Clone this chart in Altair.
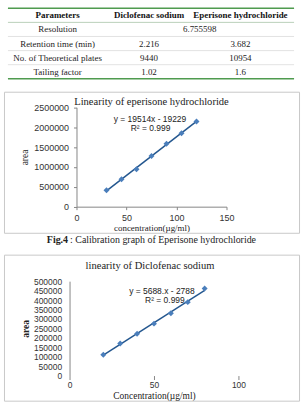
import altair as alt
import pandas as pd

# ---- system suitability table ----
headers = ["Parameters", "Diclofenac sodium", "Eperisone hydrochloride"]
param_names = ["Resolution", "Retention time (min)", "No. of Theoretical plates", "Tailing factor"]
diclofenac_vals = [None, "2.216", "9440", "1.02"]
eperisone_vals = [None, "3.682", "10954", "1.6"]
resolution_val = "6.755598"

# ---- eperisone calibration ----
ep_conc = [30, 45, 60, 75, 90, 105, 120]
ep_area = [415000, 690000, 940000, 1275000, 1585000, 1850000, 2145000]
ep_title = "Linearity of eperisone hydrochloride"
ep_eq = "y = 19514x - 19229"
ep_r2 = "R² = 0.999"

# ---- diclofenac calibration ----
dic_conc = [20, 30, 40, 50, 60, 70, 80]
dic_area = [110000, 170000, 221000, 275000, 330000, 389000, 461000]
dic_title = "linearity of Diclofenac sodium"
dic_eq = "y = 5688.x - 2788"
dic_r2 = "R² = 0.999"

caption_bold = "Fig.4"
caption_rest = ": Calibration graph of Eperisone hydrochloride"

SERIF = "Liberation Serif"
SANS = "Liberation Sans"
MARKER = "#4a7ebb"
TREND = "#24578f"
FRAME = "#c9c9c9"
AXIS = "#868686"

# ---------------- table ----------------
cells = []
for h in headers:
    cells.append({"col": h, "pos": 0.5, "text": h, "bold": True})
for i, p in enumerate(param_names):
    cells.append({"col": headers[0], "pos": i + 1.5, "text": p, "bold": False})
    if diclofenac_vals[i]:
        cells.append({"col": headers[1], "pos": i + 1.5, "text": diclofenac_vals[i], "bold": False})
    if eperisone_vals[i]:
        cells.append({"col": headers[2], "pos": i + 1.5, "text": eperisone_vals[i], "bold": False})
cells_df = pd.DataFrame(cells)
merged_df = pd.DataFrame({"col": [headers[1]], "pos": [1.5], "text": [resolution_val]})
bounds_df = pd.DataFrame({"pos": [0, 1, 2, 3, 4, 5]})

tx = alt.Scale(type="point", domain=headers, range=[54, 238], padding=0)
ty = alt.Scale(domain=[0, 5], range=[7, 78])
X_T = alt.X("col:N", scale=tx, axis=None)
Y_T = alt.Y("pos:Q", scale=ty, axis=None)
Y_B = alt.Y("pos:Q", scale=ty, axis=None)

outer_rules = alt.Chart(bounds_df).transform_filter("datum.pos == 0 || datum.pos == 5").mark_rule(
    color="#4f9b4f", strokeWidth=1.6).encode(y=Y_B, x=alt.value(4), x2=alt.value(292))
head_rule = alt.Chart(bounds_df).transform_filter("datum.pos == 1").mark_rule(
    color="#a9c4a9", strokeWidth=0.8).encode(y=Y_B, x=alt.value(4), x2=alt.value(292))
row_rules = alt.Chart(bounds_df).transform_filter("datum.pos >= 2 && datum.pos <= 4").mark_rule(
    color="#dcdcdc", strokeWidth=0.8).encode(y=Y_B, x=alt.value(4), x2=alt.value(292))
head_text = alt.Chart(cells_df).transform_filter("datum.bold").mark_text(
    font=SERIF, fontSize=9, fontWeight="bold", color="#111", baseline="middle").encode(
    x=X_T, y=Y_T, text="text:N")
body_text = alt.Chart(cells_df).transform_filter("!datum.bold").mark_text(
    font=SERIF, fontSize=9, color="#222", baseline="middle").encode(
    x=X_T, y=Y_T, text="text:N")
merged_text = alt.Chart(merged_df).mark_text(
    font=SERIF, fontSize=9, color="#222", baseline="middle", dx=51).encode(
    x=X_T, y=Y_T, text="text:N")

table = alt.layer(outer_rules, head_rule, row_rules, head_text, body_text, merged_text).properties(
    width=297, height=91, view=alt.ViewBackground(stroke=None))


# ---------------- calibration panels ----------------
def label(txt, x, y, font, size, weight="normal", align="center"):
    return alt.Chart(pd.DataFrame({"t": [txt]})).mark_text(
        font=font, fontSize=size, fontWeight=weight, align=align, baseline="middle", color="#222"
    ).encode(text="t:N", x=alt.value(x), y=alt.value(y))


def calib_panel(conc, area, xdom, xrange, xticks, ydom, yrange, yticks, height,
                xtitle, ytitle, xaxis_opts, yaxis_opts, texts):
    df = pd.DataFrame({"conc": conc, "area": area})
    xe = alt.X("conc:Q", title=xtitle,
               scale=alt.Scale(domain=xdom, range=xrange, nice=False, zero=False),
               axis=alt.Axis(orient="bottom", offset=-(height - yrange[0]), values=xticks,
                             grid=False, labelFlush=False, labelOverlap=False, **xaxis_opts))
    ye = alt.Y("area:Q", title=ytitle,
               scale=alt.Scale(domain=ydom, range=yrange, nice=False),
               axis=alt.Axis(orient="left", offset=-xrange[0], values=yticks, format="d",
                             grid=False, labelOverlap=False, labelFlush=False, **yaxis_opts))
    fit = alt.Chart(df).transform_regression("conc", "area").mark_line(
        color=TREND, strokeWidth=1.5).encode(x=xe, y=ye)
    pts = alt.Chart(df).mark_point(shape="diamond", filled=True, size=36, opacity=1,
                                   color=MARKER).encode(x=xe, y=ye)
    return alt.layer(fit, pts, *texts).properties(
        width=297, height=height, view=alt.ViewBackground(stroke=FRAME, strokeWidth=1))


ep_panel = calib_panel(
    ep_conc, ep_area, [0, 150], [73, 224], [0, 50, 100, 150],
    [0, 2500000], [115.7, 15.7], list(range(0, 2500001, 500000)), 142,
    "concentration(µg/ml)", "area",
    dict(domainColor=AXIS, tickColor=AXIS, tickSize=3, labelPadding=3.5,
         labelFont=SANS, labelFontSize=9, labelColor="#333",
         titleFont=SERIF, titleFontSize=9, titleFontWeight="normal", titleColor="#222",
         titlePadding=1),
    dict(domainColor=AXIS, tickColor=AXIS, tickSize=3, labelPadding=5,
         labelFont=SANS, labelFontSize=9, labelColor="#333",
         titleFont=SERIF, titleFontSize=9.5, titleFontWeight="normal", titleColor="#222",
         titlePadding=4),
    [label(ep_title, 148.5, 10, SERIF, 10.6),
     label(ep_eq, 147, 27.3, SANS, 8.5),
     label(ep_r2, 147.5, 36.3, SANS, 8.5)],
)

caption = alt.layer(
    label(caption_bold, 64.5, 7, SERIF, 10, weight="bold", align="right"),
    label(caption_rest, 66.5, 7, SERIF, 10, align="left"),
).properties(width=297, height=22, view=alt.ViewBackground(stroke=None))

dic_panel = calib_panel(
    dic_conc, dic_area, [0, 100], [66, 236], [0, 50, 100],
    [0, 500000], [121.7, 26.7], list(range(0, 500001, 50000)), 147,
    "Concentration(µg/ml)", "area",
    dict(domain=False, tickColor=AXIS, tickSize=4, labelPadding=1,
         labelFont=SANS, labelFontSize=8.5, labelColor="#333",
         titleFont=SERIF, titleFontSize=9.5, titleFontWeight="normal", titleColor="#222",
         titlePadding=2),
    dict(domainColor=AXIS, ticks=False, labelPadding=8,
         labelFont=SANS, labelFontSize=8.5, labelColor="#333",
         titleFont=SERIF, titleFontSize=9.5, titleFontWeight="bold", titleColor="#222",
         titlePadding=3),
    [label(dic_title, 147, 11, SERIF, 10.6),
     label(dic_eq, 159, 36.7, SANS, 8.5),
     label(dic_r2, 162, 45.7, SANS, 8.5)],
)

chart = alt.vconcat(table, ep_panel, caption, dic_panel, spacing=0).properties(
    padding={"left": 3, "top": 0, "right": 3, "bottom": 0},
    bounds="flush",
    background="white",
).configure_view(stroke=None)

chart.save("out.html", embed_options={"renderer": "svg", "actions": False})
